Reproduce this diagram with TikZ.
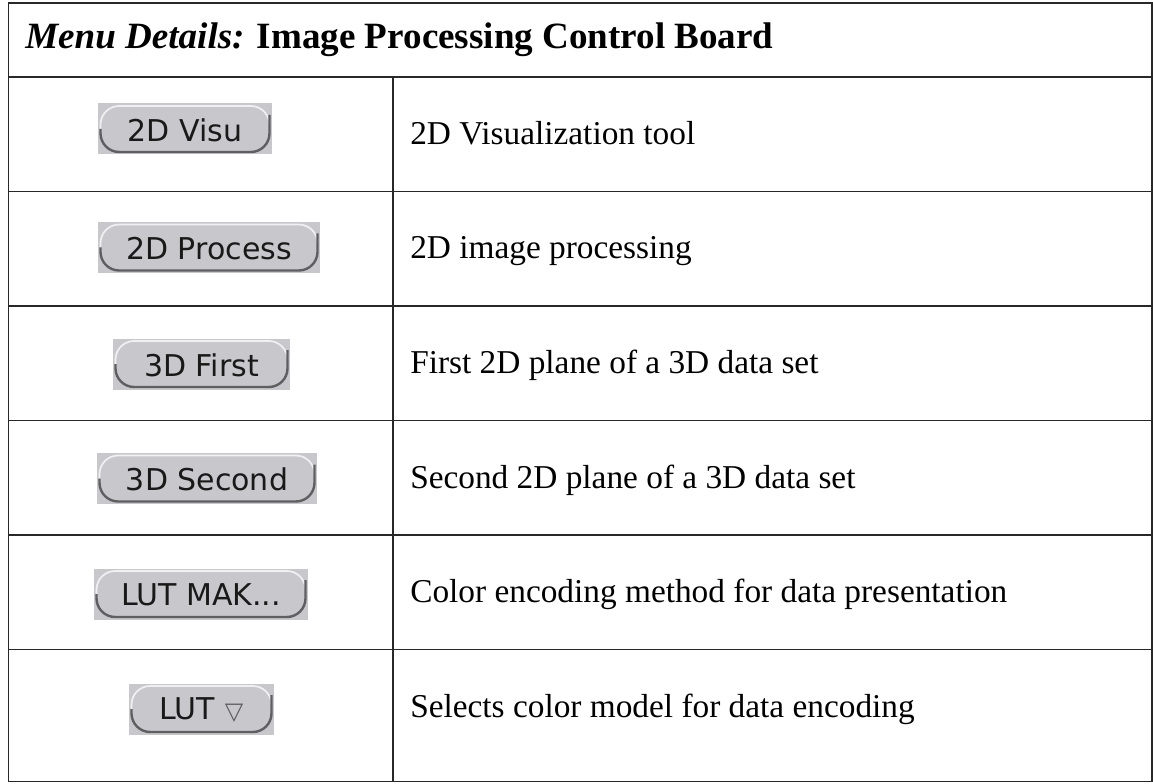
\documentclass[tikz,border=0pt]{standalone}
\usepackage{fontspec}
\setmainfont{Liberation Serif}
\newfontfamily\btnfont{DejaVu Sans}
\definecolor{gridline}{RGB}{40,40,40}
\definecolor{btnbg}{RGB}{200,200,204}
\definecolor{btnlight}{RGB}{240,240,242}
\definecolor{btndark}{RGB}{95,95,98}
\definecolor{btnink}{RGB}{25,25,25}
\tikzset{
  gridln/.style={draw=gridline, line width=1.3pt},
  btnrect/.style={fill=btnbg},
  btnhi/.style={draw=btnlight, line width=1.3pt, rounded corners=14pt},
  btnlo/.style={draw=btndark, line width=1.8pt, rounded corners=14pt},
  btntext/.style={inner sep=0pt, text=btnink, font=\btnfont\fontsize{22.5}{26}\selectfont},
  bodytext/.style={inner sep=0pt, anchor=base west, font=\fontsize{25}{29}\selectfont},
  headtext/.style={inner sep=0pt, anchor=base west, font=\fontsize{27.8}{32}\selectfont\bfseries},
}
\newcommand\MyButton[5]{%
  \path[btnrect] ({#2-#4/2},{#3-25.5}) rectangle ({#2+#4/2},{#3+25.5});
  \draw[btnhi] ({#2-#4/2+2.5},{#3}) -- ({#2-#4/2+2.5},{#3-23}) -- ({#2+#4/2-2.5},{#3-23}) -- ({#2+#4/2-2.5},{#3-8});
  \draw[btnlo] ({#2-#4/2+2.5},{#3}) -- ({#2-#4/2+2.5},{#3+23}) -- ({#2+#4/2-2.5},{#3+23}) -- ({#2+#4/2-2.5},{#3-14});
  \node[btntext] (#1) at ({#2},{#3+1}) {#5};
}
\begin{document}
\begin{tikzpicture}[x=0.75pt,y=-0.75pt]
\useasboundingbox (0,0) rectangle (1153,784);
\clip (0,0) rectangle (1153,784);
\fill[white] (0,0) rectangle (1153,784);
% table grid
\coordinate (tl) at (8.5,3);
\coordinate (tr) at (1151.8,3);
\coordinate (bl) at (8.5,781.5);
\coordinate (br) at (1151.8,781.5);
\draw[gridln] (tl) -- (tr) -- (br) -- (bl) -- cycle;
\foreach \yy in {77,191.5,306,420.5,535,649.5}{
  \draw[gridln] (8.5,\yy) -- (1151.8,\yy);
}
\coordinate (colt) at (393,77);
\coordinate (colb) at (393,781.5);
\draw[gridln] (colt) -- (colb);
% header
\node[headtext] (head) at (25,49) {\textit{Menu Details:} Image Processing Control Board};
% rows
\MyButton{b1}{185}{129}{174}{2D Visu}
\MyButton{b2}{209}{247.5}{222}{2D Process}
\MyButton{b3}{201.5}{364}{177}{3D First}
\MyButton{b4}{207}{478.5}{220}{3D Second}
\MyButton{b5}{201}{594}{214}{LUT MAK...}
\MyButton{b6}{201.5}{709}{145}{LUT \raisebox{0.5pt}{\fontsize{18}{18}\selectfont\color{btndark}▽}}
\node[bodytext] (d1) at (410,144.5) {2D Visualization tool};
\node[bodytext] (d2) at (410,259) {2D image processing};
\node[bodytext] (d3) at (410,373.5) {First 2D plane of a 3D data set};
\node[bodytext] (d4) at (410,488) {Second 2D plane of a 3D data set};
\node[bodytext] (d5) at (410,602.5) {Color encoding method for data presentation};
\node[bodytext] (d6) at (410,717) {Selects color model for data encoding};
\end{tikzpicture}
\end{document}
